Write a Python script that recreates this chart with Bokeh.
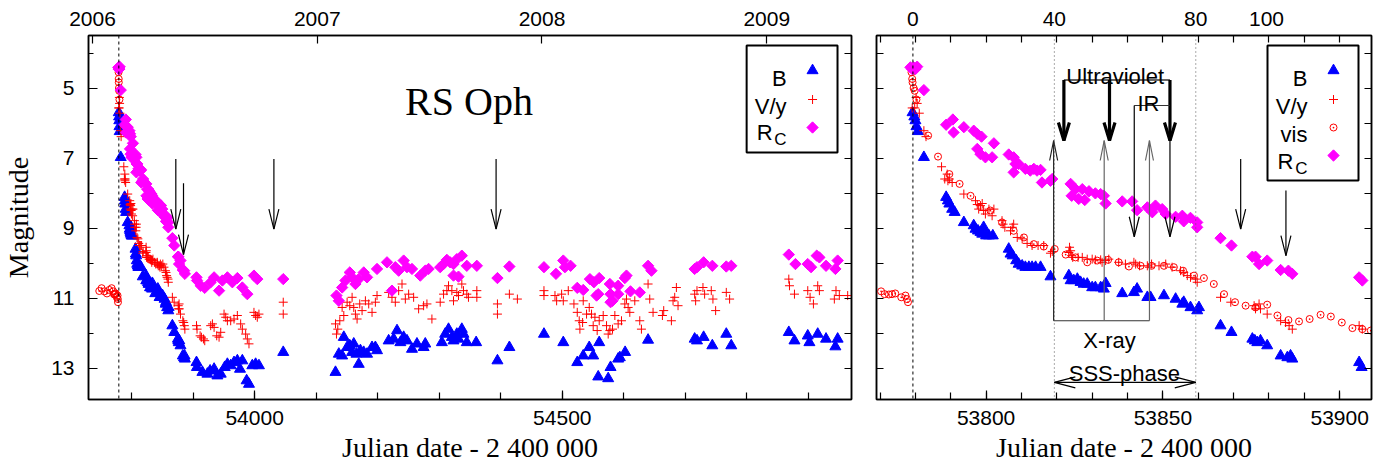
import math
from bokeh.plotting import figure
from bokeh.models import Range1d, LinearAxis, FixedTicker, Label, BoxAnnotation, Span
from bokeh.layouts import row
from bokeh.embed import file_html
from bokeh.resources import INLINE

# ---------------- data (Julian date - 2400000, magnitude) ----------------
T0 = 53779.3          # outburst
YEAR0_JD = 53736.5    # 2006 Jan 1.0

B_JD = [53779.2, 53779.7, 53780.0, 53780.3, 53780.7, 53782.4, 53788.7, 53789.2, 53789.6, 53790.4,
        53791.1, 53793.7, 53796.5, 53797.0, 53797.7, 53798.4, 53798.9, 53799.3, 53800.0, 53800.8,
        53801.9, 53806.4, 53806.9, 53807.5, 53808.5, 53809.2, 53810.2, 53811.1, 53812.1, 53813.0,
        53814.0, 53815.4, 53818.2, 53823.4, 53823.9, 53824.8, 53825.8, 53826.7, 53827.6, 53828.6,
        53830.0, 53830.9, 53832.4, 53833.3, 53833.8, 53838.5, 53841.8, 53842.7, 53845.6, 53846.5,
        53850.3, 53853.6, 53855.5, 53855.9, 53857.8, 53859.7, 53860.2, 53866.3, 53869.4, 53875.3,
        53876.0, 53876.7, 53877.6, 53879.5, 53883.3, 53885.2, 53886.1, 53886.6, 53905.5, 53906.2,
        53915.1, 53923.2, 53927.6, 53934.1, 53939.5, 53944.9, 53951.4, 53955.7, 53961.1, 53966.5,
        53971.9, 53976.2, 53980.0, 53987.0, 53990.8, 53996.2, 54001.6, 54007.0, 54046.5, 54131.4,
        54136.8, 54142.2, 54144.9, 54150.3, 54154.6, 54158.4, 54161.1, 54165.4, 54169.2, 54171.9,
        54177.3, 54182.7, 54190.8, 54196.2, 54198.9, 54217.8, 54225.9, 54231.4, 54236.8, 54242.2,
        54247.6, 54255.7, 54263.8, 54274.6, 54277.3, 54304.3, 54309.7, 54315.1, 54320.5, 54323.2,
        54328.6, 54331.3, 54336.7, 54339.4, 54344.8, 54360.0, 54394.6, 54414.0, 54470.2, 54501.6,
        54524.3, 54534.0, 54543.8, 54550.2, 54558.4, 54560.0, 54574.6, 54578.4, 54590.8, 54593.5,
        54602.1, 54639.4, 54715.1, 54718.9, 54729.7, 54743.8, 54766.5, 54774.6, 54868.1, 54877.3,
        54898.9, 54901.6, 54915.1, 54928.6, 54943.8, 54947.5]
B_MAG = [5.70, 5.82, 5.93, 6.10, 6.24, 6.98, 8.12, 8.22, 8.31, 8.46,
         8.55, 8.84, 8.93, 9.03, 9.08, 9.12, 9.17, 8.98, 9.22, 9.22,
         9.22, 9.60, 9.74, 9.79, 9.93, 10.03, 10.08, 10.12, 10.12, 10.12,
         10.12, 10.12, 10.39, 10.36, 10.50, 10.50, 10.46, 10.55, 10.60, 10.60,
         10.70, 10.70, 10.70, 10.74, 10.58, 10.87, 10.84, 10.74, 10.98, 10.98,
         10.93, 11.03, 11.17, 11.12, 11.27, 11.36, 11.27, 11.79, 11.98, 12.17,
         12.22, 12.27, 12.22, 12.36, 12.65, 12.70, 12.65, 12.74, 12.84, 12.98,
         13.12, 13.17, 13.08, 13.03, 13.22, 13.17, 12.98, 12.89, 12.93, 12.84,
         12.79, 13.03, 12.79, 13.36, 13.46, 12.93, 12.89, 12.93, 12.55, 13.12,
         12.60, 12.65, 12.12, 12.41, 12.36, 12.55, 12.31, 12.60, 12.89, 12.50,
         12.55, 12.60, 12.41, 12.41, 12.50, 12.22, 12.17, 11.93, 12.27, 12.12,
         12.22, 12.46, 12.31, 12.41, 12.31, 12.27, 12.03, 11.89, 12.12, 12.22,
         12.03, 12.17, 11.89, 12.03, 12.27, 12.27, 12.79, 12.41, 12.03, 12.27,
         12.84, 12.65, 12.41, 12.65, 13.25, 12.27, 13.30, 12.98, 12.74, 12.70,
         12.55, 12.20, 12.17, 12.22, 12.12, 12.36, 12.03, 12.36, 11.98, 12.22,
         12.08, 12.27, 12.03, 12.17, 12.39, 12.17]

V_JD = [53779.1, 53779.8, 53780.2, 53780.5, 53781.1, 53782.4, 53783.0, 53787.4, 53788.3, 53789.0,
        53789.2, 53789.6, 53790.4, 53793.7, 53797.0, 53797.5, 53797.9, 53798.4, 53798.9, 53799.3,
        53799.8, 53800.8, 53801.7, 53802.2, 53804.5, 53804.8, 53805.3, 53806.9, 53807.4, 53807.8,
        53808.8, 53810.2, 53811.6, 53813.0, 53814.7, 53816.3, 53818.2, 53818.7, 53823.4, 53823.6,
        53823.9, 53824.2, 53824.5, 53826.0, 53827.2, 53828.6, 53830.0, 53830.9, 53832.4, 53832.8,
        53833.8, 53834.7, 53837.5, 53839.4, 53841.8, 53842.3, 53843.4, 53845.6, 53846.2, 53846.8,
        53848.9, 53850.8, 53852.6, 53855.0, 53855.9, 53856.9, 53857.8, 53859.2, 53859.7, 53866.3,
        53869.2, 53875.8, 53876.2, 53877.2, 53877.6, 53879.5, 53883.3, 53884.7, 53885.7, 53886.6,
        53905.5, 53906.4, 53911.4, 53913.5, 53916.8, 53918.9, 53928.6, 53931.4, 53934.1, 53938.4,
        53942.2, 53944.9, 53950.3, 53953.0, 53955.7, 53961.1, 53966.5, 53971.9, 53977.3, 53980.0,
        53985.4, 53988.1, 53990.8, 53998.9, 54001.6, 54004.3, 54007.0, 54046.5, 54046.5, 54131.4,
        54133.0, 54135.1, 54138.4, 54142.2, 54144.9, 54150.3, 54154.6, 54158.4, 54161.1, 54163.8,
        54166.5, 54170.8, 54174.6, 54180.0, 54185.4, 54190.8, 54196.2, 54198.9, 54217.8, 54223.2,
        54228.6, 54234.1, 54239.5, 54244.9, 54250.3, 54258.4, 54266.5, 54274.6, 54280.0, 54288.1,
        54301.6, 54307.0, 54312.4, 54315.1, 54320.5, 54323.2, 54328.6, 54331.3, 54336.7, 54339.4,
        54344.8, 54347.5, 54361.1, 54361.1, 54394.6, 54394.6, 54414.0, 54427.0, 54470.2, 54470.2,
        54488.1, 54490.8, 54498.9, 54501.6, 54509.7, 54518.9, 54524.3, 54527.5, 54528.6, 54533.0,
        54534.0, 54539.4, 54543.8, 54547.5, 54550.2, 54553.0, 54556.7, 54560.0, 54566.5, 54571.9,
        54574.6, 54577.3, 54581.6, 54585.4, 54590.8, 54596.2, 54601.6, 54604.3, 54607.0, 54609.7,
        54617.8, 54625.9, 54628.6, 54639.4, 54642.1, 54647.5, 54662.7, 54664.8, 54677.3, 54680.0,
        54682.7, 54685.4, 54688.1, 54715.1, 54716.7, 54718.9, 54728.6, 54731.3, 54742.1, 54744.8,
        54749.2, 54766.5, 54771.9, 54868.1, 54869.2, 54877.3, 54898.9, 54902.7, 54908.1, 54915.1,
        54917.8, 54942.1, 54944.8, 54950.2, 54963.8]
V_MAG = [5.57, 5.57, 5.27, 5.44, 5.72, 6.22, 6.39, 7.25, 7.60, 7.46,
         7.65, 7.60, 7.70, 8.03, 8.22, 8.33, 8.46, 8.36, 8.30, 8.50,
         8.60, 8.46, 8.65, 8.46, 8.79, 8.89, 8.98, 9.08, 8.98, 8.89,
         9.27, 9.31, 9.44, 9.50, 9.50, 9.50, 9.72, 9.67, 9.70, 9.55,
         9.65, 9.79, 9.84, 9.84, 9.84, 9.89, 9.89, 9.91, 9.91, 9.98,
         9.93, 9.89, 9.98, 10.03, 9.98, 10.03, 10.08, 10.08, 10.12, 10.03,
         10.08, 10.03, 10.12, 10.22, 10.27, 10.36, 10.41, 10.46, 10.55, 10.98,
         11.12, 11.22, 11.31, 11.17, 11.31, 11.46, 11.65, 11.70, 11.79, 11.89,
         11.79, 11.89, 12.08, 12.12, 12.17, 12.22, 11.79, 11.74, 11.84, 12.08,
         12.12, 11.98, 11.46, 11.55, 11.65, 11.65, 11.60, 11.50, 11.74, 11.89,
         12.03, 12.17, 12.31, 11.41, 11.50, 11.55, 11.46, 11.12, 11.46, 11.74,
         12.03, 11.89, 11.65, 11.27, 11.50, 11.12, 11.22, 10.98, 11.27, 11.46,
         11.60, 11.17, 11.36, 11.08, 11.17, 11.41, 11.12, 10.93, 10.84, 10.98,
         11.12, 10.79, 10.60, 11.03, 10.89, 10.98, 11.31, 11.22, 11.17, 11.60,
         11.12, 10.89, 10.79, 10.65, 10.79, 11.08, 10.84, 10.93, 10.60, 10.79,
         10.89, 10.98, 10.79, 10.98, 11.17, 11.46, 10.89, 11.03, 10.79, 10.93,
         10.93, 11.08, 10.89, 11.08, 10.79, 11.17, 11.41, 11.65, 11.89, 11.70,
         11.08, 11.46, 11.27, 11.46, 11.79, 11.55, 11.93, 11.65, 11.50, 11.79,
         12.03, 11.93, 11.89, 11.50, 11.74, 11.65, 11.17, 11.03, 11.27, 11.41,
         11.08, 11.65, 11.89, 10.60, 11.03, 11.41, 11.50, 11.36, 11.65, 11.08,
         10.98, 10.70, 11.22, 10.89, 11.08, 10.79, 10.70, 10.89, 10.79, 11.03,
         11.36, 10.84, 11.03, 10.46, 10.65, 10.89, 10.79, 10.98, 11.17, 10.65,
         10.79, 11.03, 10.79, 10.93, 10.93]

VIS_JD = [53747.5, 53751.3, 53755.7, 53760.0, 53763.8, 53767.6, 53770.3, 53771.3, 53772.5, 53773.4,
          53774.3, 53776.0, 53777.2, 53777.6, 53777.9, 53778.6, 53778.9, 53779.1, 53779.2, 53779.5,
          53779.8, 53780.3, 53783.6, 53786.4, 53789.6, 53792.5, 53795.6, 53801.2, 53804.5, 53807.8,
          53810.7, 53813.5, 53816.3, 53819.4, 53822.5, 53825.3, 53828.6, 53831.4, 53834.5, 53837.5,
          53840.4, 53843.7, 53846.8, 53850.3, 53853.1, 53855.7, 53858.8, 53861.6, 53864.4, 53867.3,
          53870.4, 53873.4, 53876.2, 53879.5, 53882.4, 53885.5, 53888.5, 53891.5, 53894.6, 53897.5,
          53900.6, 53903.6, 53906.4, 53908.8]
VIS_MAG = [10.80, 10.72, 10.81, 10.87, 10.77, 10.72, 10.81, 10.89, 10.90, 10.89,
           10.87, 10.98, 10.93, 11.03, 11.12, 4.41, 4.55, 4.74, 4.84, 5.00,
           5.08, 5.33, 6.36, 6.96, 7.46, 7.74, 8.08, 8.50, 8.84, 9.08,
           9.27, 9.46, 9.53, 9.60, 9.76, 9.84, 9.98, 9.93, 9.91, 9.98,
           10.10, 10.08, 10.08, 10.08, 10.12, 10.22, 10.36, 10.43, 10.60, 10.89,
           11.12, 11.22, 11.27, 11.19, 11.50, 11.63, 11.67, 11.60, 11.48, 11.53,
           11.70, 11.86, 11.89, 11.93]

R_JD = [53778.6, 53779.1, 53779.5, 53780.0, 53780.5, 53782.4, 53788.7, 53790.6, 53790.8, 53793.7,
        53796.5, 53797.5, 53798.7, 53797.5, 53798.4, 53799.8, 53801.7, 53802.2, 53806.4, 53807.8,
        53808.3, 53807.8, 53809.2, 53811.1, 53812.5, 53813.5, 53814.4, 53815.4, 53815.8, 53818.2,
        53818.7, 53823.9, 53824.2, 53825.3, 53826.2, 53827.2, 53827.9, 53829.1, 53830.9, 53832.4,
        53833.3, 53833.8, 53838.5, 53841.3, 53842.7, 53845.6, 53847.0, 53847.9, 53849.8, 53850.8,
        53853.6, 53855.5, 53855.9, 53857.8, 53859.7, 53859.7, 53866.3, 53869.4, 53875.3, 53876.2,
        53877.2, 53879.5, 53883.3, 53885.5, 53886.6, 53905.5, 53906.4, 53912.4, 53918.9, 53928.6,
        53934.1, 53942.2, 53947.6, 53955.7, 53963.8, 53971.9, 53980.0, 53988.1, 53998.9, 54004.3,
        54046.5, 54133.0, 54136.8, 54142.2, 54147.6, 54154.6, 54158.4, 54163.8, 54169.2, 54177.3,
        54182.7, 54198.9, 54215.1, 54223.2, 54228.6, 54234.1, 54242.2, 54247.6, 54255.7, 54269.2,
        54277.3, 54282.7, 54301.6, 54307.0, 54312.4, 54317.8, 54323.2, 54323.2, 54328.6, 54331.3,
        54336.7, 54344.8, 54361.1, 54394.6, 54414.0, 54470.2, 54489.7, 54501.6, 54504.3, 54513.5,
        54524.3, 54534.0, 54544.9, 54551.3, 54555.7, 54558.4, 54560.0, 54577.3, 54578.4, 54578.4,
        54581.6, 54590.8, 54590.8, 54601.6, 54604.3, 54610.8, 54625.9, 54639.4, 54644.9, 54715.1,
        54718.9, 54729.7, 54743.8, 54766.5, 54774.6, 54868.1, 54878.9, 54898.9, 54904.3, 54913.5,
        54917.8, 54928.6, 54943.8, 54947.5]
R_MAG = [4.41, 4.46, 4.41, 4.46, 4.39, 5.06, 6.05, 5.90, 6.27, 6.12,
         6.22, 6.31, 6.39, 6.74, 6.89, 6.98, 6.98, 6.58, 6.90, 6.98,
         7.17, 7.41, 7.17, 7.31, 7.36, 7.31, 7.36, 7.34, 7.70, 7.65,
         7.60, 7.74, 8.08, 7.89, 8.17, 7.89, 8.20, 7.95, 8.01, 8.03,
         8.08, 8.30, 8.24, 8.24, 8.49, 8.41, 8.55, 8.36, 8.46, 8.60,
         8.68, 8.65, 8.81, 8.71, 8.84, 8.98, 9.29, 9.50, 9.82, 9.82,
         10.03, 9.93, 10.20, 10.22, 10.31, 10.41, 10.50, 10.65, 10.71, 10.55,
         10.41, 10.79, 10.50, 10.41, 10.55, 10.43, 10.70, 10.89, 10.36, 10.46,
         10.46, 10.93, 11.08, 10.70, 10.50, 10.27, 10.41, 10.60, 10.46, 10.27,
         10.41, 10.17, 9.98, 10.79, 10.12, 10.22, 9.93, 10.12, 10.17, 10.36,
         10.22, 10.17, 10.12, 10.03, 9.91, 9.98, 10.03, 10.36, 9.89, 10.39,
         9.79, 10.08, 10.08, 10.43, 10.10, 10.12, 10.31, 9.93, 10.12, 10.08,
         10.71, 10.77, 10.46, 10.55, 10.93, 10.89, 10.43, 10.60, 10.89, 11.12,
         11.08, 10.65, 10.89, 10.43, 10.36, 10.81, 10.84, 10.08, 10.22, 10.17,
         10.12, 9.98, 10.08, 10.10, 10.08, 9.76, 10.03, 10.03, 10.12, 9.79,
         9.84, 10.08, 10.17, 9.93]

# annotation arrows (JD, start mag, tip mag)
ARROW_L_JD = [53871.9, 53884.4, 54031.3, 54392.4]
ARROW_L_Y0 = [7.03, 7.72, 7.03, 7.03]
ARROW_L_Y1 = [9.03, 9.76, 9.03, 9.03]
ARROW_R_JD = [53872.0, 53884.8]
ARROW_R_Y0 = [7.03, 7.93]
ARROW_R_Y1 = [9.03, 9.79]
UV_JD = [53822.0, 53834.9, 53852.0]
UV_Y0, UV_Y1 = 4.77, 6.50
IR_JD = [53841.9, 53852.0]
IR_Y0, IR_Y1 = 5.50, 9.25
XR_JD = [53819.1, 53833.4, 53846.2]
XR_Y0, XR_Y1 = 11.65, 6.50
SSS_DAYS = [40, 80]
SSS_Y = 13.41

YEAR_TICKS = [2006, 2007, 2008, 2009]
DAY_TICKS = [0, 40, 80, 100]
LEFT_JD_TICKS = [54000, 54500]
RIGHT_JD_TICKS = [53800, 53850, 53900]
MAG_TICKS = [5, 7, 9, 11, 13]
MAG_ALL = list(range(4, 14))

# ---------------- layout ----------------
H = 472
TOP, BOT = 35, 399
YR = (13.9, 3.5)
X1 = (53730.0, 54970.0)
L1, R1 = 87, 851
X2 = (53769.0, 53909.0)
L2, R2 = 876, 1371
W1 = 862
W2 = 1392 - W1
SANS = "Liberation Sans"
SERIF = "Liberation Serif"
BLUE, RED, MAG = "#0000ff", "#ff0000", "#ff00ff"
MAG_PER_PX = (YR[0] - YR[1]) / (BOT - TOP)


def px2y(py):
    return YR[1] + (py - TOP) * MAG_PER_PX


def px2x(px, xr, L, R):
    return xr[0] + (px - L) * (xr[1] - xr[0]) / (R - L)


def make_fig(xr, width, bl, br):
    p = figure(width=width, height=H, x_range=Range1d(*xr), y_range=Range1d(*YR),
               output_backend="svg", toolbar_location=None,
               min_border_left=bl, min_border_right=br,
               min_border_top=TOP, min_border_bottom=H - BOT)
    p.xgrid.visible = False
    p.ygrid.visible = False
    p.outline_line_color = "black"
    p.outline_line_width = 1.5
    p.background_fill_color = "white"
    p.border_fill_color = "white"
    return p


def style_axis(ax, ticker, major=9, minor=5, standoff=10):
    ax.ticker = ticker
    ax.major_tick_in = major
    ax.major_tick_out = 0
    ax.minor_tick_in = minor
    ax.minor_tick_out = 0
    ax.axis_line_color = "black"
    ax.axis_line_width = 1.5
    ax.major_tick_line_color = "black"
    ax.minor_tick_line_color = "black"
    ax.major_tick_line_width = 1.2
    ax.minor_tick_line_width = 1.2
    ax.major_label_text_font = SANS
    ax.major_label_text_font_size = "21px"
    ax.major_label_text_color = "black"
    ax.major_label_standoff = standoff


def mirror_axis(p, side):
    # ticks only (no labels): all positions as minor ticks
    ax = LinearAxis(ticker=FixedTicker(ticks=[], minor_ticks=MAG_ALL))
    ax.major_tick_in = 0
    ax.major_tick_out = 0
    ax.minor_tick_in = 7
    ax.minor_tick_out = 0
    ax.axis_line_color = "black"
    ax.axis_line_width = 1.5
    ax.minor_tick_line_color = "black"
    ax.minor_tick_line_width = 1.2
    ax.major_label_standoff = 0
    p.add_layout(ax, side)
    return ax


def style_axis_label(ax, text, standoff):
    ax.axis_label = text
    ax.axis_label_text_font = SERIF
    ax.axis_label_text_font_size = "28px"
    ax.axis_label_text_font_style = "normal"
    ax.axis_label_text_color = "black"
    ax.axis_label_standoff = standoff


def plot_data(p, vis_max=None):
    p.scatter(B_JD, B_MAG, marker="triangle", size=11, fill_color=BLUE, line_color=BLUE)
    p.scatter(V_JD, V_MAG, marker="cross", size=9, line_color=RED, line_width=1)
    if vis_max is None:
        vx, vy = VIS_JD, VIS_MAG
    else:
        pairs = [(a, b) for a, b in zip(VIS_JD, VIS_MAG) if a < vis_max]
        vx = [a for a, _ in pairs]
        vy = [b for _, b in pairs]
    p.scatter(vx, vy, marker="circle_dot", size=7, line_color=RED, fill_color=None, line_width=1)
    p.scatter(R_JD, R_MAG, marker="square", angle=math.pi / 4, size=8, fill_color=MAG, line_color=MAG)


def varrow(p, x, y0, y1, xr, L, R, lw=1.0, color="black", hl=20, hw=5):
    p.segment(x0=[x], y0=[y0], x1=[x], y1=[y1], line_color=color, line_width=lw)
    s = 1 if y1 > y0 else -1
    dy = hl * MAG_PER_PX * s
    dx = hw * (xr[1] - xr[0]) / (R - L)
    p.multi_line(xs=[[x - dx, x, x + dx]], ys=[[y1 - dy, y1, y1 - dy]],
                 line_color=color, line_width=lw)


def legend(p, xr, L, R, box, text_right, mark_x, entries):
    bl, bt, br, bb = box
    p.add_layout(BoxAnnotation(left=px2x(bl, xr, L, R), right=px2x(br, xr, L, R),
                               top=px2y(bt), bottom=px2y(bb), fill_alpha=0,
                               line_color="black", line_width=2, line_alpha=1))
    mx = px2x(mark_x, xr, L, R)
    for text, sub, base, my, kind in entries:
        if sub:
            p.add_layout(Label(x=px2x(text_right - 14, xr, L, R), y=px2y(base), text=text,
                               text_align="right", text_baseline="alphabetic",
                               text_font=SANS, text_font_size="22px", text_color="black"))
            p.add_layout(Label(x=px2x(text_right, xr, L, R), y=px2y(base + 7), text=sub,
                               text_align="right", text_baseline="alphabetic",
                               text_font=SANS, text_font_size="17px", text_color="black"))
        else:
            p.add_layout(Label(x=px2x(text_right, xr, L, R), y=px2y(base), text=text,
                               text_align="right", text_baseline="alphabetic",
                               text_font=SANS, text_font_size="22px", text_color="black"))
        y = px2y(my)
        if kind == "B":
            p.scatter([mx], [y], marker="triangle", size=11, fill_color=BLUE, line_color=BLUE)
        elif kind == "V":
            p.scatter([mx], [y], marker="cross", size=9, line_color=RED, line_width=1)
        elif kind == "vis":
            p.scatter([mx], [y], marker="circle_dot", size=7, line_color=RED, fill_color=None)
        else:
            p.scatter([mx], [y], marker="square", angle=math.pi / 4, size=8,
                      fill_color=MAG, line_color=MAG)


# ---------------- left panel ----------------
p1 = make_fig(X1, W1, L1, W1 - R1)
style_axis(p1.xaxis[0], FixedTicker(ticks=LEFT_JD_TICKS, minor_ticks=list(range(53800, 54901, 100))),
           major=9, minor=7, standoff=11)
style_axis_label(p1.xaxis[0], "Julian date - 2 400 000", 4)
style_axis(p1.yaxis[0], FixedTicker(ticks=MAG_TICKS, minor_ticks=MAG_ALL), standoff=14)
style_axis_label(p1.yaxis[0], "Magnitude", 14)

p1.extra_x_ranges = {"yr": Range1d(2006 + (X1[0] - YEAR0_JD) / 365.25, 2006 + (X1[1] - YEAR0_JD) / 365.25)}
ax_top1 = LinearAxis(x_range_name="yr")
style_axis(ax_top1, FixedTicker(ticks=YEAR_TICKS), major=8, minor=0, standoff=10)
p1.add_layout(ax_top1, "above")
mirror_axis(p1, "right")

p1.add_layout(Span(location=T0, dimension="height", line_color="black", line_dash="3 3", line_width=1))
plot_data(p1, vis_max=T0 + 1.5)
for x, a, b in zip(ARROW_L_JD, ARROW_L_Y0, ARROW_L_Y1):
    varrow(p1, x, a, b, X1, L1, R1, lw=1.2, hl=20, hw=5)
p1.add_layout(Label(x=px2x(468, X1, L1, R1), y=px2y(101), text="RS Oph", text_align="center",
                    text_baseline="alphabetic", text_font=SERIF, text_font_size="40px", text_color="black"))
legend(p1, X1, L1, R1, (746, 45, 837, 152), 786, 812,
       [("B", None, 77.5, 70, "B"), ("V/y", None, 106, 99, "V"), ("R", "C", 131.5, 127, "R")])

# ---------------- right panel ----------------
p2 = make_fig(X2, W2, L2 - W1, W2 - (R2 - W1))
style_axis(p2.xaxis[0], FixedTicker(ticks=RIGHT_JD_TICKS, minor_ticks=list(range(53770, 53910, 10))),
           major=9, minor=7, standoff=11)
style_axis_label(p2.xaxis[0], "Julian date - 2 400 000", 4)
p2.yaxis[0].visible = False
mirror_axis(p2, "left")

p2.extra_x_ranges = {"day": Range1d(X2[0] - T0, X2[1] - T0)}
ax_top2 = LinearAxis(x_range_name="day")
style_axis(ax_top2, FixedTicker(ticks=DAY_TICKS, minor_ticks=[j - T0 for j in range(53770, 53910, 10)]),
           major=0, minor=7, standoff=10)
p2.add_layout(ax_top2, "above")
mirror_axis(p2, "right")

p2.add_layout(Span(location=T0, dimension="height", line_color="black", line_dash="3 3", line_width=1))
for d in SSS_DAYS:
    p2.add_layout(Span(location=T0 + d, dimension="height", line_color="#555555",
                       line_dash="1 3", line_width=1))
plot_data(p2)

# Ultraviolet bracket
p2.segment(x0=[UV_JD[0]], y0=[UV_Y0], x1=[UV_JD[-1]], y1=[UV_Y0], line_color="#333333", line_width=1.5)
for x in UV_JD:
    varrow(p2, x, UV_Y0, UV_Y1, X2, L2, R2, lw=3.2, hl=18, hw=5.5)
# IR bracket
p2.segment(x0=[IR_JD[0]], y0=[IR_Y0], x1=[IR_JD[-1]], y1=[IR_Y0], line_color="#333333", line_width=1.2)
for x in IR_JD:
    varrow(p2, x, IR_Y0, IR_Y1, X2, L2, R2, lw=1.2, hl=20, hw=5)
# X-ray bracket
p2.segment(x0=[XR_JD[0]], y0=[XR_Y0], x1=[XR_JD[-1]], y1=[XR_Y0], line_color="#333333", line_width=1.2)
for i, x in enumerate(XR_JD):
    varrow(p2, x, XR_Y0, XR_Y1, X2, L2, R2, lw=1.2, color="#222222" if i == 0 else "#666666", hl=20, hw=4)
# SSS phase double arrow
sx0, sx1 = T0 + SSS_DAYS[0], T0 + SSS_DAYS[1]
p2.segment(x0=[sx0], y0=[SSS_Y], x1=[sx1], y1=[SSS_Y], line_color="black", line_width=1.2)
hdx = 21 * (X2[1] - X2[0]) / (R2 - L2)
hdy = 5.5 * MAG_PER_PX
p2.multi_line(xs=[[sx0 + hdx, sx0, sx0 + hdx], [sx1 - hdx, sx1, sx1 - hdx]],
              ys=[[SSS_Y - hdy, SSS_Y, SSS_Y + hdy], [SSS_Y - hdy, SSS_Y, SSS_Y + hdy]],
              line_color="black", line_width=1.2)
for x, a, b in zip(ARROW_R_JD, ARROW_R_Y0, ARROW_R_Y1):
    varrow(p2, x, a, b, X2, L2, R2, lw=1.2, hl=20, hw=5)

for txt, x, y in [("Ultraviolet", 53836.5, 4.67), ("IR", 53845.9, 5.45),
                  ("X-ray", 53834.9, 12.21), ("SSS-phase", 53839.1, 13.17)]:
    p2.add_layout(Label(x=x, y=y, text=txt, text_align="center", text_baseline="alphabetic",
                        text_font=SANS, text_font_size="22px", text_color="black"))

legend(p2, X2, L2, R2, (1267, 45, 1358, 180), 1307, 1333,
       [("B", None, 77.5, 70, "B"), ("V/y", None, 106, 99, "V"), ("vis", None, 133.5, 127, "vis"),
        ("R", "C", 160.5, 155, "R")])

layout = row(p1, p2)
open("out.html", "w").write(file_html(layout, INLINE))
